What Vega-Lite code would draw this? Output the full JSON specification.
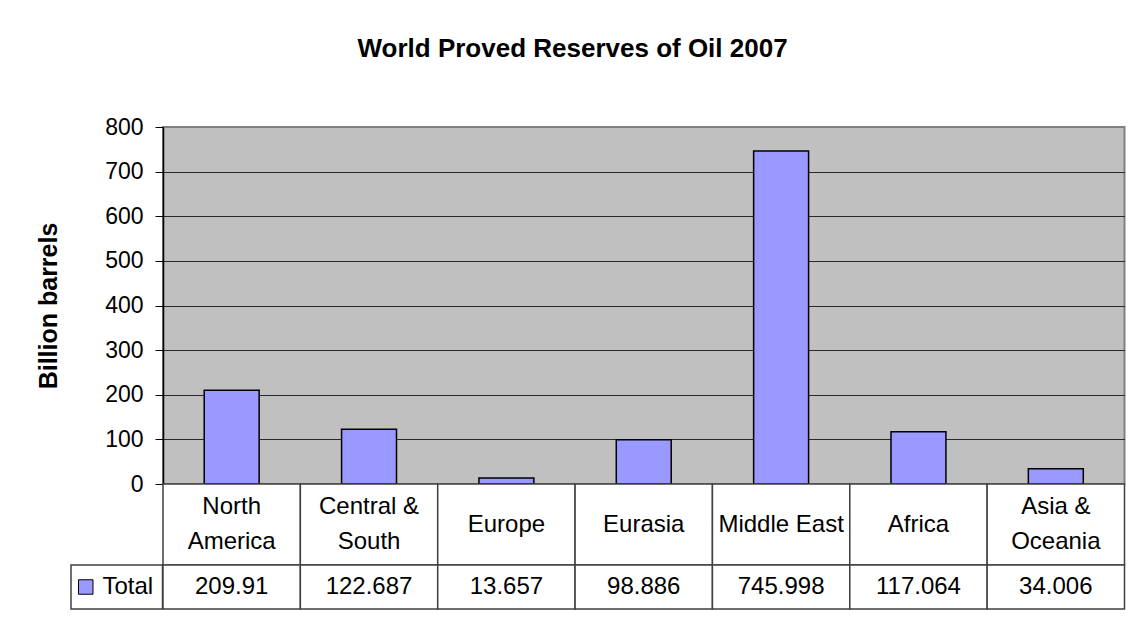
{
  "$schema": "https://vega.github.io/schema/vega-lite/v6.json",
  "background": "white",
  "padding": {"left": 35, "top": 36, "right": 8, "bottom": 15},
  "title": {
    "text": "World Proved Reserves of Oil 2007",
    "fontSize": 26,
    "fontWeight": "bold",
    "color": "black",
    "anchor": "middle",
    "dx": -8,
    "offset": 53
  },
  "datasets": {
    "oil": [
      {"cat": "North America", "label": "North\nAmerica", "lines": 2, "value": 209.91},
      {"cat": "Central & South", "label": "Central &\nSouth", "lines": 2, "value": 122.687},
      {"cat": "Europe", "label": "Europe", "lines": 1, "value": 13.657},
      {"cat": "Eurasia", "label": "Eurasia", "lines": 1, "value": 98.886},
      {"cat": "Middle East", "label": "Middle East", "lines": 1, "value": 745.998},
      {"cat": "Africa", "label": "Africa", "lines": 1, "value": 117.064},
      {"cat": "Asia & Oceania", "label": "Asia &\nOceania", "lines": 2, "value": 34.006}
    ]
  },
  "columns": 2,
  "spacing": 0,
  "bounds": "flush",
  "align": "each",
  "concat": [
    {
      "width": 91.5,
      "height": 357,
      "data": {"values": [{"t": ""}]},
      "view": {"stroke": null},
      "mark": {"type": "text"},
      "encoding": {"text": {"field": "t"}}
    },
    {
      "width": 961.5,
      "height": 357,
      "data": {"name": "oil"},
      "view": {"fill": "#C0C0C0", "stroke": "#808080", "strokeWidth": 2},
      "mark": {"type": "bar", "fill": "#9999FF", "stroke": "black", "strokeWidth": 1.5},
      "encoding": {
        "x": {
          "field": "cat",
          "type": "nominal",
          "sort": null,
          "scale": {"paddingInner": 0.6, "paddingOuter": 0.3},
          "axis": null
        },
        "y": {
          "field": "value",
          "type": "quantitative",
          "scale": {"domain": [0, 800], "nice": false},
          "axis": {
            "title": "Billion barrels",
            "titleFontSize": 25,
            "titleFontWeight": "bold",
            "titleColor": "black",
            "titlePadding": 43,
            "labelFontSize": 23,
            "labelColor": "black",
            "labelPadding": 12,
            "labelFlush": false,
            "labelOverlap": false,
            "tickSize": 8,
            "tickColor": "black",
            "tickWidth": 1,
            "domainColor": "black",
            "domainWidth": 1.5,
            "grid": true,
            "gridColor": {"condition": {"test": "datum.value == 800", "value": "#808080"}, "value": "#2a2a2a"},
            "gridWidth": 1.2,
            "gridOpacity": 1,
            "values": [0, 100, 200, 300, 400, 500, 600, 700, 800]
          }
        }
      }
    },
    {
      "width": 91.5,
      "height": 81,
      "data": {"values": [{"t": ""}]},
      "view": {"stroke": null},
      "mark": {"type": "text"},
      "encoding": {"text": {"field": "t"}}
    },
    {
      "width": 961.5,
      "height": 81,
      "data": {"name": "oil"},
      "view": {"stroke": null},
      "encoding": {
        "x": {
          "field": "cat",
          "type": "nominal",
          "sort": null,
          "scale": {"paddingInner": 0, "paddingOuter": 0},
          "axis": null
        }
      },
      "layer": [
        {"mark": {"type": "rect", "fill": "white", "stroke": "#404040", "strokeWidth": 1.5}},
        {
          "transform": [{"filter": "datum.lines == 1"}],
          "mark": {"type": "text", "fontSize": 24, "color": "black"},
          "encoding": {"text": {"field": "label"}}
        },
        {
          "transform": [{"filter": "datum.lines == 2"}],
          "mark": {"type": "text", "fontSize": 24, "lineBreak": "\n", "lineHeight": 35, "dy": -17.5, "color": "black"},
          "encoding": {"text": {"field": "label"}}
        }
      ]
    },
    {
      "width": 91.5,
      "height": 44,
      "data": {"values": [{"series": "Total"}]},
      "view": {"stroke": "#404040", "strokeWidth": 1.5, "fill": "white"},
      "layer": [
        {
          "mark": {"type": "point", "shape": "square", "filled": true, "fill": "#9999FF", "stroke": "black", "strokeWidth": 1, "size": 210, "opacity": 1, "xOffset": -31},
          "encoding": {}
        },
        {
          "mark": {"type": "text", "fontSize": 24, "dx": 11, "color": "black"},
          "encoding": {"text": {"field": "series"}}
        }
      ]
    },
    {
      "width": 961.5,
      "height": 44,
      "data": {"name": "oil"},
      "view": {"stroke": null},
      "encoding": {
        "x": {
          "field": "cat",
          "type": "nominal",
          "sort": null,
          "scale": {"paddingInner": 0, "paddingOuter": 0},
          "axis": null
        }
      },
      "layer": [
        {"mark": {"type": "rect", "fill": "white", "stroke": "#404040", "strokeWidth": 1.5}},
        {
          "mark": {"type": "text", "fontSize": 24, "color": "black"},
          "encoding": {"text": {"field": "value", "type": "nominal"}}
        }
      ]
    }
  ],
  "config": {
    "font": "Liberation Sans",
    "text": {"font": "Liberation Sans"}
  }
}
